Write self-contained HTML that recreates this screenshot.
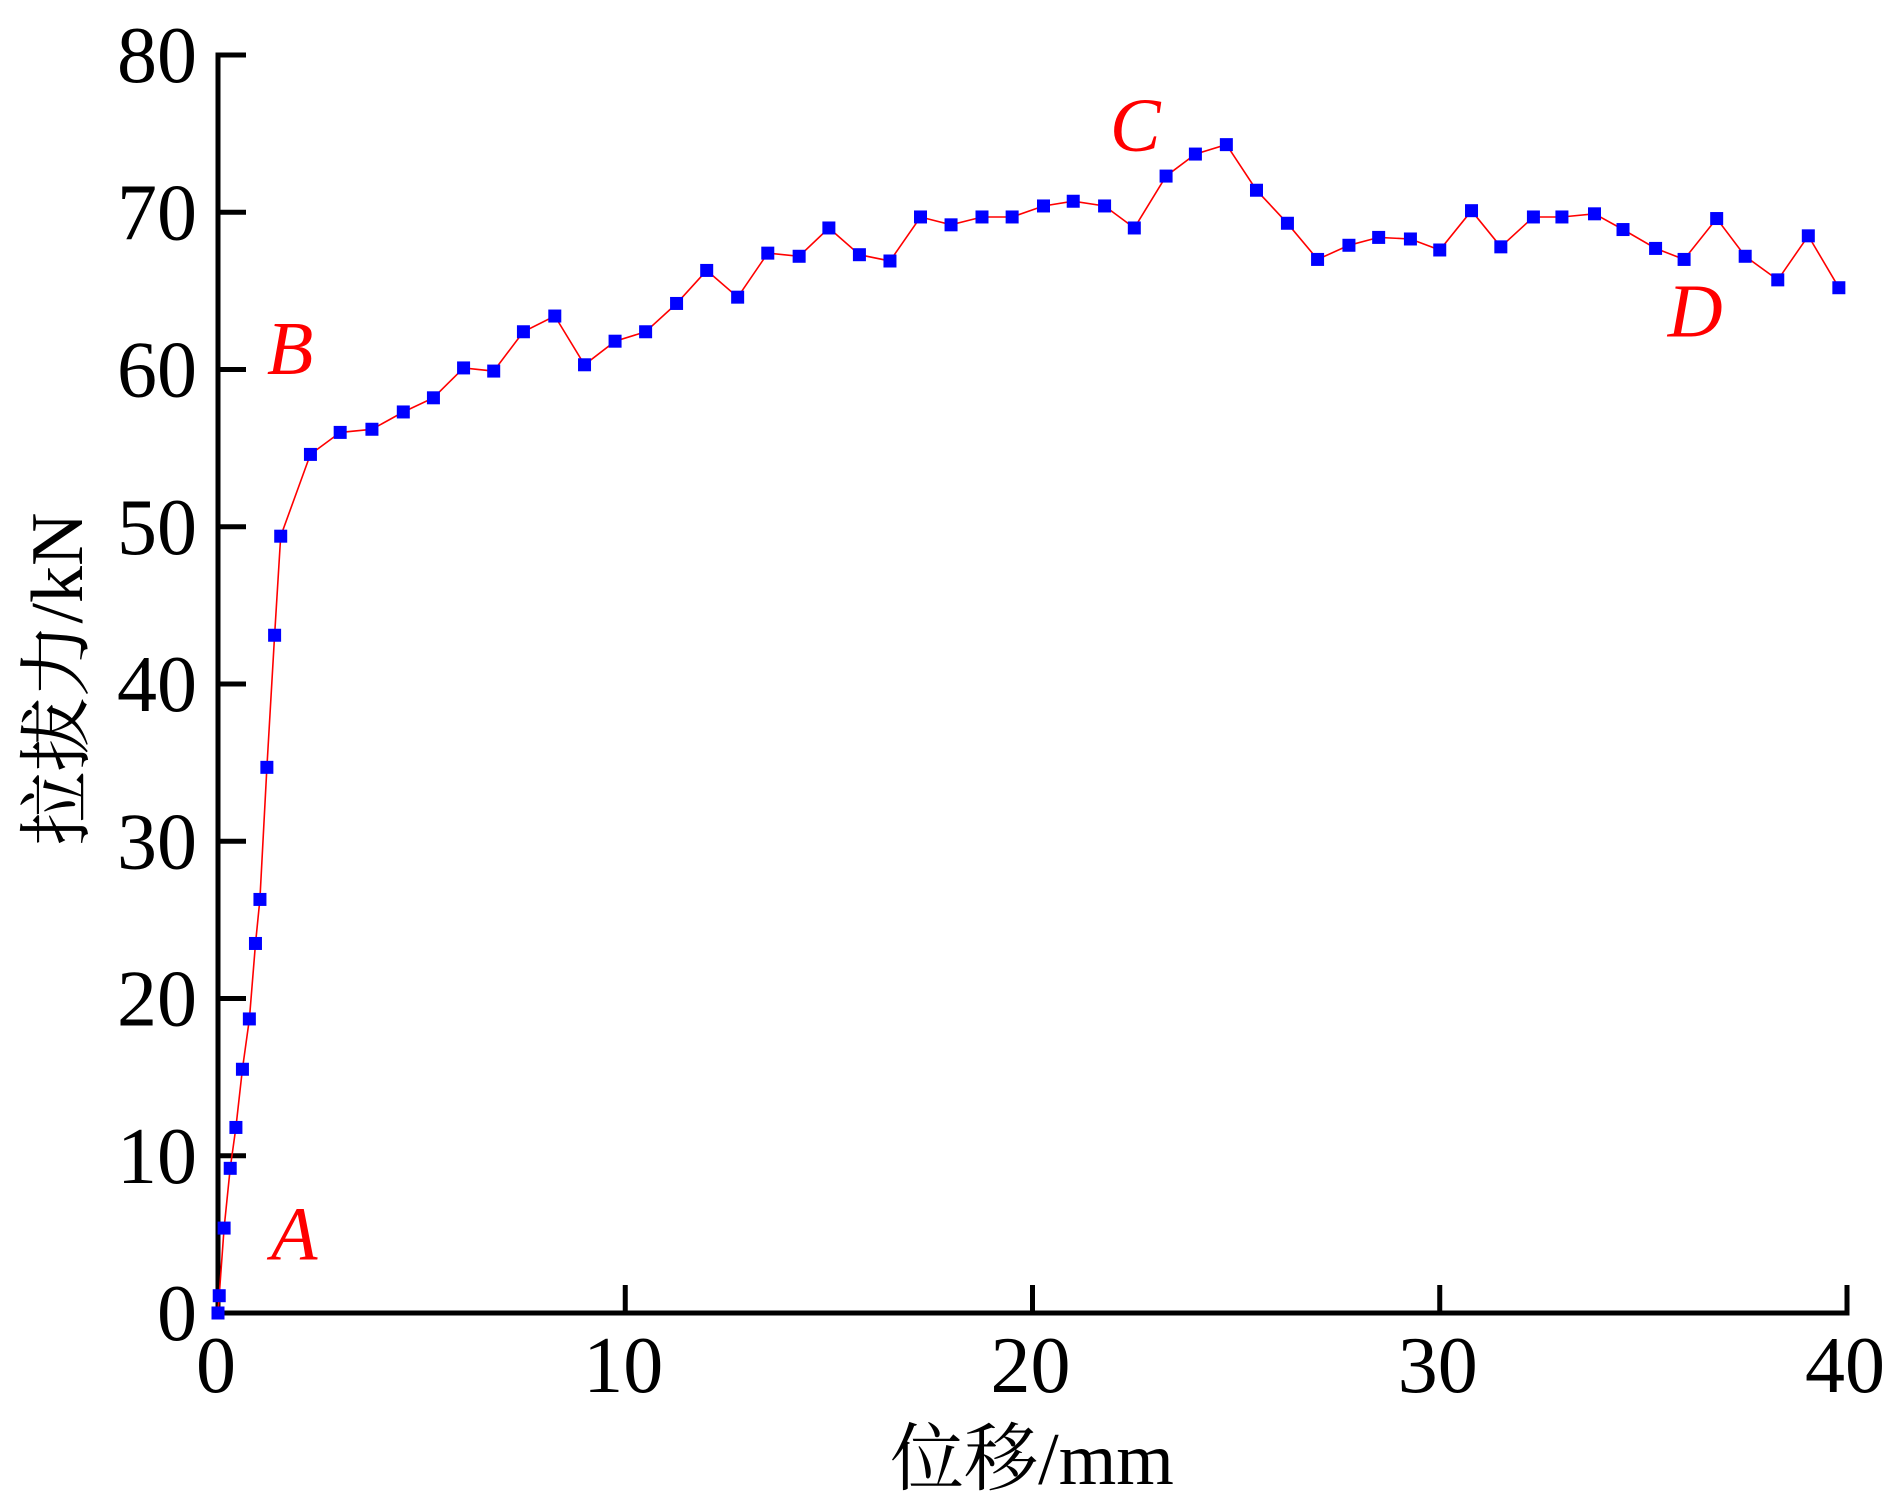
<!DOCTYPE html>
<html><head><meta charset="utf-8"><style>
html,body{margin:0;padding:0;background:#fff}
svg{display:block}
text{font-family:"Liberation Serif","Noto Serif CJK SC",serif}
</style></head><body>
<svg id="chart" width="1886" height="1507" viewBox="0 0 1886 1507">
<g id="axes"></g>
<g id="series"></g>
<g id="labels"></g>
</svg>
<script>
const xVals=[0,0.03,0.15,0.3,0.44,0.6,0.77,0.92,1.03,1.2,1.39,1.54,2.27,3.0,3.78,4.55,5.29,6.03,6.77,7.5,8.27,9.0,9.75,10.5,11.26,12.0,12.76,13.5,14.27,15.0,15.75,16.5,17.25,18.0,18.76,19.5,20.27,21.0,21.77,22.5,23.28,24.0,24.76,25.5,26.26,27.0,27.77,28.5,29.28,30.0,30.78,31.5,32.3,33.0,33.8,34.5,35.3,36.0,36.8,37.5,38.3,39.05,39.8];
const yVals=[0,1.1,5.4,9.2,11.8,15.5,18.7,23.5,26.3,34.7,43.1,49.4,54.6,56.0,56.2,57.3,58.2,60.1,59.9,62.4,63.4,60.3,61.8,62.4,64.2,66.3,64.6,67.4,67.2,69.0,67.3,66.9,69.7,69.2,69.7,69.7,70.4,70.7,70.4,69.0,72.3,73.7,74.3,71.4,69.3,67.0,67.9,68.4,68.3,67.6,70.1,67.8,69.7,69.7,69.9,68.9,67.7,67.0,69.6,67.2,65.7,68.5,65.2];
const xTicks=[0,10,20,30,40];
const yTicks=[0,10,20,30,40,50,60,70,80];
const pointLabels=["A","B","C","D"];
const pointLabelX=[1.3,1.2,21.9,35.6];
const pointLabelY=[3.4,59.7,73.9,62.1];

const X0=218,X1=1847,Y0=1313,Y1=55;
const sx=v=>X0+(v/40)*(X1-X0);
const sy=v=>Y0-(v/80)*(Y0-Y1);
const NS="http://www.w3.org/2000/svg";
function mk(tag,attrs,parent){const e=document.createElementNS(NS,tag);for(const k in attrs)e.setAttribute(k,attrs[k]);parent.appendChild(e);return e;}
const axes=document.getElementById('axes'),series=document.getElementById('series'),labels=document.getElementById('labels');

let a=mk('path',{d:`M${X0},${Y1} V${Y0} H${X1}`,fill:'none',stroke:'#000','stroke-width':5,'stroke-linecap':'square'},axes);


yTicks.forEach(t=>{
  const y=sy(t);
  const l=mk('line',{x1:X0,x2:X0+28,y1:y,y2:y,stroke:'#000','stroke-width':5},axes);
  
  
  const tx=mk('text',{x:197,y:y+27,'text-anchor':'end','font-size':80,fill:'#000'},axes);
  tx.textContent=t;
  
  
});
xTicks.forEach(t=>{
  const x=sx(t);
  const l=mk('line',{x1:x,x2:x,y1:Y0,y2:Y0-28,stroke:'#000','stroke-width':5},axes);
  
  
  const tx=mk('text',{x:x-2,y:1392,'text-anchor':'middle','font-size':80,fill:'#000'},axes);
  tx.textContent=t;
  
  
});
let xt=mk('text',{x:1032,y:1484,'text-anchor':'middle','font-size':74,fill:'#000'},axes);
xt.textContent='位移/mm';


let yt=mk('text',{x:0,y:0,'text-anchor':'middle','font-size':74,fill:'#000',transform:'translate(82,679) rotate(-90)'},axes);
yt.textContent='拉拔力/kN';



const pts=xVals.map((x,i)=>`${sx(x).toFixed(1)},${sy(yVals[i]).toFixed(1)}`).join(' ');
let pl=mk('polyline',{points:pts,fill:'none',stroke:'#ff0000','stroke-width':1.6},series);


xVals.forEach((x,i)=>{
  const r=mk('rect',{x:sx(x)-6.5,y:sy(yVals[i])-6.5,width:13,height:13,fill:'#0000ff'},series);
  
  
});
pointLabels.forEach((s,i)=>{
  const t=mk('text',{x:sx(pointLabelX[i]),y:sy(pointLabelY[i]),'font-size':76,'font-style':'italic',fill:'#ff0000'},labels);
  t.textContent=s;
  
  
});
</script>
</body></html>
